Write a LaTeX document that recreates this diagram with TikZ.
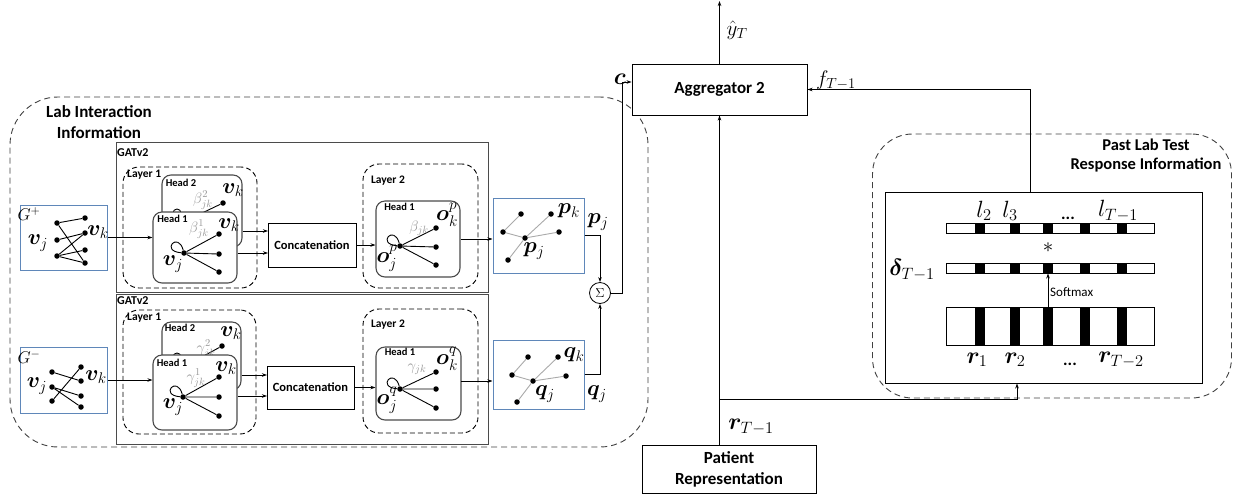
\documentclass[tikz,border=0pt]{standalone}
\usepackage{fix-cm}
\usepackage[no-math]{fontspec}
\setmainfont{Carlito}
\usepackage{amsmath,bm}
\usetikzlibrary{arrows.meta,calc}

\definecolor{graphblue}{RGB}{95,135,185}
\definecolor{edgegray}{RGB}{170,170,170}
\definecolor{greekgray}{RGB}{150,150,150}
\definecolor{framegray}{RGB}{75,75,75}
\definecolor{dashgray}{RGB}{65,65,65}

\tikzset{
  outerframe/.style={draw=dashgray, line width=0.9pt, dash pattern=on 6pt off 4pt, rounded corners=48pt, inner sep=0},
  gatbox/.style={draw=framegray, line width=1pt, inner sep=0},
  layerbox/.style={draw=black, line width=0.9pt, dash pattern=on 5pt off 3pt, rounded corners=16pt, inner sep=0},
  headbox/.style={draw=framegray, line width=1.1pt, rounded corners=9pt, fill=white, inner sep=0},
  graphbox/.style={draw=graphblue, line width=1pt, fill=white, inner sep=0},
  plainbox/.style={draw=black, line width=0.9pt, fill=white, inner sep=0},
  gdot/.style={circle, fill=black, inner sep=0, minimum size=5.5pt},
  biglabel/.style={font=\bfseries\fontsize{17}{21}\selectfont, inner sep=0},
  midlabel/.style={font=\bfseries\fontsize{12.5}{15}\selectfont, inner sep=0},
  gatlabel/.style={font=\bfseries\fontsize{12}{14}\selectfont, inner sep=0},
  layerlabel/.style={font=\bfseries\fontsize{11.5}{14}\selectfont, inner sep=0},
  headlabel/.style={font=\bfseries\fontsize{10.5}{12}\selectfont, inner sep=0},
  smalltext/.style={font=\fontsize{13}{15}\selectfont, inner sep=0},
  mbig/.style={font=\fontsize{22}{26}\selectfont, inner sep=0},
  mmid/.style={font=\fontsize{21}{25}\selectfont, inner sep=0},
  mlarge/.style={font=\fontsize{23.5}{28}\selectfont, inner sep=0},
  mgreek/.style={font=\fontsize{15}{18}\selectfont, text=greekgray, inner sep=0},
  gedge/.style={line width=0.9pt, draw=black},
  pedge/.style={line width=0.9pt, draw=edgegray},
  conn/.style={line width=0.8pt, draw=black, -{Stealth[length=5pt,width=3.5pt]}},
}

\begin{document}
\begin{tikzpicture}[x=1pt,y=-1pt]
\useasboundingbox (0,0) rectangle (1233,499);

% ---------- lab interaction frame ----------
\node[outerframe, minimum width=638, minimum height=350] (labframe) at (329,272) {};
\node[biglabel, align=center] (labtitle) at (99,122) {Lab Interaction\\Information};

% GATv2 blocks
\node[gatbox, minimum width=372, minimum height=150] (gatt) at (302,217) {};
\node[gatbox, minimum width=372, minimum height=150] (gatb) at (302,369) {};
\node[gatlabel, anchor=west] (gattl) at (117,153) {GATv2};
\node[gatlabel, anchor=west] (gatbl) at (117,301) {GATv2};

% layer frames
\node[layerbox, minimum width=134, minimum height=121] (lay1t) at (190,227.5) {};
\node[layerbox, minimum width=133, minimum height=124] (lay1b) at (189.5,372) {};
\node[layerbox, minimum width=115, minimum height=124] (lay2t) at (420.5,226) {};
\node[layerbox, minimum width=115, minimum height=124] (lay2b) at (420.5,371) {};
\node[layerlabel, anchor=west] (lay1tl) at (127,175) {Layer 1};
\node[layerlabel, anchor=west] (lay1bl) at (127,318) {Layer 1};
\node[layerlabel] (lay2tl) at (388,181) {Layer 2};
\node[layerlabel] (lay2bl) at (388,325) {Layer 2};

% ---------- input graphs ----------
\node[graphbox, minimum width=87, minimum height=65] (gplus) at (63.5,237.5) {};
\node[mmid, font=\fontsize{17}{20}\selectfont] (gplusl) at (29,214) {$G^{+}$};
\node[gdot] (gpa1) at (57,223) {};
\node[gdot] (gpa2) at (57,240) {};
\node[gdot] (gpa3) at (57,256) {};
\node[gdot] (gpb1) at (85,218) {};
\node[gdot] (gpb2) at (85,233) {};
\node[gdot] (gpb3) at (85,250) {};
\node[gdot] (gpb4) at (85,263) {};
\draw[gedge] (gpa1) -- (gpb1) (gpa1) -- (gpb4) (gpa2) -- (gpb2)
  (gpa3) -- (gpb2) (gpa3) -- (gpb3) (gpa3) -- (gpb4);
\node[mbig] (gpvj) at (38,243) {$\bm{v}_j$};
\node[mbig] (gpvk) at (98,232) {$\bm{v}_k$};

\node[graphbox, minimum width=87, minimum height=66] (gminus) at (63.5,380) {};
\node[mmid, font=\fontsize{17}{20}\selectfont] (gminusl) at (29,357) {$G^{-}$};
\node[gdot] (gma1) at (52,372) {};
\node[gdot] (gma2) at (52,387) {};
\node[gdot] (gma3) at (52,401) {};
\node[gdot] (gmb1) at (81,367) {};
\node[gdot] (gmb2) at (81,381) {};
\node[gdot] (gmb3) at (81,396) {};
\node[gdot] (gmb4) at (81,407) {};
\draw[gedge] (gma1) -- (gmb2) (gma3) -- (gmb1) (gma2) -- (gmb3) (gma2) -- (gmb4);
\node[mbig] (gmvj) at (37,386) {$\bm{v}_j$};
\node[mbig] (gmvk) at (96,377) {$\bm{v}_k$};

% ---------- layer 1, upper branch ----------
\node[headbox, minimum width=80, minimum height=72] (h2t) at (202,211) {};
\node[headlabel] (h2tl) at (181,183) {Head 2};
\node[mbig] (h2tvk) at (233,190) {$\bm{v}_k$};
\node[gdot] (h2tn) at (223,203) {};
\coordinate (h2tc) at (200,214);
\draw[gedge] (h2tc) -- (h2tn);
\draw[gedge] (177,213) circle (4);
\node[mgreek] (h2tb) at (203,200) {$\beta^{2}_{jk}$};

\node[headbox, minimum width=84, minimum height=71] (h1t) at (195,247.5) {};
\node[headlabel] (h1tl) at (172.5,219) {Head 1};
\node[gdot] (h1tc) at (184,253) {};
\node[gdot] (h1ta) at (219,234) {};
\node[gdot] (h1tb) at (219,254) {};
\node[gdot] (h1td) at (219,272) {};
\draw[gedge] (h1tc) -- (h1ta) (h1tc) -- (h1tb) (h1tc) -- (h1td);
\draw[gedge] (h1tc) .. controls +(-24,-2) and +(-6,-22) .. (h1tc);
\node[mgreek] (h1tbeta) at (199,229) {$\beta^{1}_{jk}$};
\node[mbig] (h1tvk) at (229,225) {$\bm{v}_k$};
\node[mbig] (h1tvj) at (173,264) {$\bm{v}_j$};

% ---------- layer 1, lower branch ----------
\node[headbox, minimum width=79, minimum height=68] (h2b) at (201.5,356) {};
\node[headlabel] (h2bl) at (180,328) {Head 2};
\node[mbig] (h2bvk) at (231,333) {$\bm{v}_k$};
\node[gdot] (h2bn) at (222,346) {};
\coordinate (h2bc) at (200,358);
\draw[gedge] (h2bc) -- (h2bn);
\draw[gedge] (177,357) circle (4);
\node[mgreek] (h2bg) at (206,349) {$\gamma^{2}_{jk}$};

\node[headbox, minimum width=84, minimum height=75] (h1b) at (195,392.5) {};
\node[headlabel] (h1bl) at (172,363) {Head 1};
\node[gdot] (h1bc) at (183,397) {};
\node[gdot] (h1ba) at (219,377) {};
\node[gdot] (h1bb) at (219,397) {};
\node[gdot] (h1bd) at (219,416) {};
\draw[gedge] (h1bc) -- (h1ba) (h1bc) -- (h1bb) (h1bc) -- (h1bd);
\draw[gedge] (h1bc) .. controls +(-24,-2) and +(-6,-22) .. (h1bc);
\node[mgreek] (h1bg) at (196,378) {$\gamma^{1}_{jk}$};
\node[mbig] (h1bvk) at (226,368) {$\bm{v}_k$};
\node[mbig] (h1bvj) at (173,407) {$\bm{v}_j$};

% ---------- concatenation ----------
\node[plainbox, minimum width=88, minimum height=44, midlabel] (cct) at (312,245) {Concatenation};
\node[plainbox, minimum width=87, minimum height=43, midlabel] (ccb) at (310.5,387.5) {Concatenation};

% ---------- layer 2 heads ----------
\node[headbox, minimum width=84, minimum height=76] (l2ht) at (418,239) {};
\node[headlabel] (l2htl) at (399.5,207) {Head 1};
\node[gdot] (l2htc) at (400,246) {};
\node[gdot] (l2hta) at (436,228) {};
\node[gdot] (l2htb) at (436,247) {};
\node[gdot] (l2htd) at (436,265) {};
\draw[gedge] (l2htc) -- (l2hta) (l2htc) -- (l2htb) (l2htc) -- (l2htd);
\draw[gedge] (l2htc) .. controls +(-24,-2) and +(-6,-22) .. (l2htc);
\node[mgreek] (l2htbeta) at (419,228) {$\beta_{jk}$};
\node[mbig] (l2htok) at (447,215) {$\bm{o}_k^{p}$};
\node[mbig] (l2htoj) at (387,258) {$\bm{o}_j^{p}$};

\node[headbox, minimum width=85, minimum height=73] (l2hb) at (418.5,383.5) {};
\node[headlabel] (l2hbl) at (400,352) {Head 1};
\node[gdot] (l2hbc) at (400,389) {};
\node[gdot] (l2hba) at (436,372) {};
\node[gdot] (l2hbb) at (436,389) {};
\node[gdot] (l2hbd) at (436,408) {};
\draw[gedge] (l2hbc) -- (l2hba) (l2hbc) -- (l2hbb) (l2hbc) -- (l2hbd);
\draw[gedge] (l2hbc) .. controls +(-24,-2) and +(-6,-22) .. (l2hbc);
\node[mgreek] (l2hbg) at (417,369) {$\gamma_{jk}$};
\node[mbig] (l2hbok) at (447,359) {$\bm{o}_k^{q}$};
\node[mbig] (l2hboj) at (387,400) {$\bm{o}_j^{q}$};

% ---------- output graphs ----------
\node[graphbox, minimum width=91, minimum height=75] (pbox) at (538.5,235.5) {};
\node[gdot] (p1) at (521,214) {};
\node[gdot] (p2) at (551,214) {};
\node[gdot] (p3) at (503,232) {};
\node[gdot] (pc) at (525,238) {};
\node[gdot] (p5) at (559,232) {};
\node[gdot] (p6) at (508,260) {};
\draw[pedge] (p3) -- (p1) (p3) -- (pc) (pc) -- (p2) (pc) -- (p5) (pc) -- (p6);
\node[mbig] (pkl) at (569,211) {$\bm{p}_k$};
\node[mbig] (pjl) at (534,251) {$\bm{p}_j$};

\node[graphbox, minimum width=91, minimum height=69] (qbox) at (538.5,374.5) {};
\node[gdot] (q1) at (528,357) {};
\node[gdot] (q2) at (558,357) {};
\node[gdot] (q3) at (512,375) {};
\node[gdot] (qc) at (533,381) {};
\node[gdot] (q5) at (566,376) {};
\node[gdot] (q6) at (517,402) {};
\draw[pedge] (q3) -- (q1) (q3) -- (qc) (qc) -- (q2) (qc) -- (q5) (qc) -- (q6);
\node[mbig] (qkl) at (574,355) {$\bm{q}_k$};
\node[mbig] (qjl) at (545,394) {$\bm{q}_j$};

% ---------- sum ----------
\node[circle, draw=black, line width=0.8pt, minimum size=21pt, inner sep=0, font=\fontsize{13}{14}\selectfont] (sum) at (600,293) {$\Sigma$};
\node[mbig] (sumpj) at (598,222) {$\bm{p}_j$};
\node[mbig] (sumqj) at (597,394) {$\bm{q}_j$};

% ---------- aggregator and patient ----------
\node[plainbox, minimum width=175, minimum height=51, biglabel] (agg) at (719.5,89.5) {Aggregator 2};
\node[plainbox, minimum width=174, minimum height=48, biglabel, align=center, font=\bfseries\fontsize{17}{21}\selectfont] (patient) at (729,469) {Patient\\Representation};
\node[mlarge] (cl) at (620,79) {$\bm{c}$};
\node[mmid] (yl) at (737,30) {$\hat{y}_T$};
\node[mmid] (fl) at (836,80) {$f_{T-1}$};
\node[mlarge] (rl) at (751,427) {$\bm{r}_{T-1}$};

% ---------- past lab test response ----------
\node[outerframe, rounded corners=40pt, minimum width=359, minimum height=264] (pastframe) at (1052,266) {};
\node[biglabel, align=center, font=\bfseries\fontsize{16.5}{19}\selectfont] (pasttitle) at (1146,156) {Past Lab Test\\Response Information};
\node[plainbox, minimum width=317, minimum height=191] (inner) at (1043.5,287.5) {};

\node[plainbox, minimum width=208, minimum height=10] (lbar) at (1050,228) {};
\node[plainbox, minimum width=208, minimum height=10] (dbar) at (1050,268) {};
\node[plainbox, minimum width=208, minimum height=38] (rbar) at (1050,326) {};
\foreach \bx in {980,1015,1048,1085,1122} {
  \fill (\bx-4.75,223) rectangle (\bx+4.75,233);
  \fill (\bx-4.75,263) rectangle (\bx+4.75,273);
  \fill (\bx-5,307) rectangle (\bx+5,345);
}
\node[mlarge] (l2l) at (984,211) {$l_2$};
\node[mlarge] (l3l) at (1010,211) {$l_3$};
\node[biglabel, anchor=base] (ldots) at (1068,219) {...};
\node[mlarge] (lTl) at (1118,211) {$l_{T-1}$};
\node[mmid] (starl) at (1048,248) {$*$};
\node[mlarge] (dl) at (912,270) {$\bm{\delta}_{T-1}$};
\node[mlarge] (r1l) at (977,360) {$\bm{r}_1$};
\node[mlarge] (r2l) at (1015,360) {$\bm{r}_2$};
\node[biglabel, anchor=base] (rdots) at (1070,365) {...};
\node[mlarge] (rTl) at (1121,360) {$\bm{r}_{T-2}$};
\coordinate (smx) at (1048,0);
\draw[conn] (rbar.north -| smx) -- (dbar.south -| smx);
\node[smalltext, anchor=west] (softl) at (1050,292) {Softmax};

% ---------- connectors ----------
\draw[conn] (gplus.east) -- (gplus.east -| h1t.west);
\draw[conn] (gminus.east) -- (gminus.east -| h1b.west);

\coordinate (cctin1) at (268,231);
\coordinate (cctin2) at (268,253);
\draw[conn] (h2t.east |- cctin1) -- (cctin1);
\draw[conn] (h1t.east |- cctin2) -- (cctin2);
\coordinate (ccbin1) at (267,375);
\coordinate (ccbin2) at (267,396);
\draw[conn] (h2b.east |- ccbin1) -- (ccbin1);
\draw[conn] (h1b.east |- ccbin2) -- (ccbin2);

\draw[conn] (cct.east) -- (cct.east -| l2ht.west);
\draw[conn] (ccb.east) -- (ccb.east -| l2hb.west);
\draw[conn] (l2ht.east) -- (l2ht.east -| pbox.west);
\coordinate (l2hbout) at (461,381);
\draw[conn] (l2hbout) -- (l2hbout -| qbox.west);

\draw[conn] (pbox.east) -| (sum.north);
\draw[conn] (qbox.east) -| (sum.south);

\coordinate (cturn) at (622,82);
\draw[conn] (sum.east) -| (cturn) -- (agg.west |- cturn);

\coordinate (yout) at (719.5,1);
\draw[conn] (agg.north) -- (yout);

\coordinate (fx) at (1030,0);
\draw[conn] (inner.north -| fx) |- (agg.east);

\draw[conn] (agg.south |- patient.north) -- (agg.south);
\coordinate (rsplit) at (719.5,399);
\coordinate (rx) at (1017,0);
\draw[conn] (rsplit) -| (inner.south -| rx);
\end{tikzpicture}
\end{document}
